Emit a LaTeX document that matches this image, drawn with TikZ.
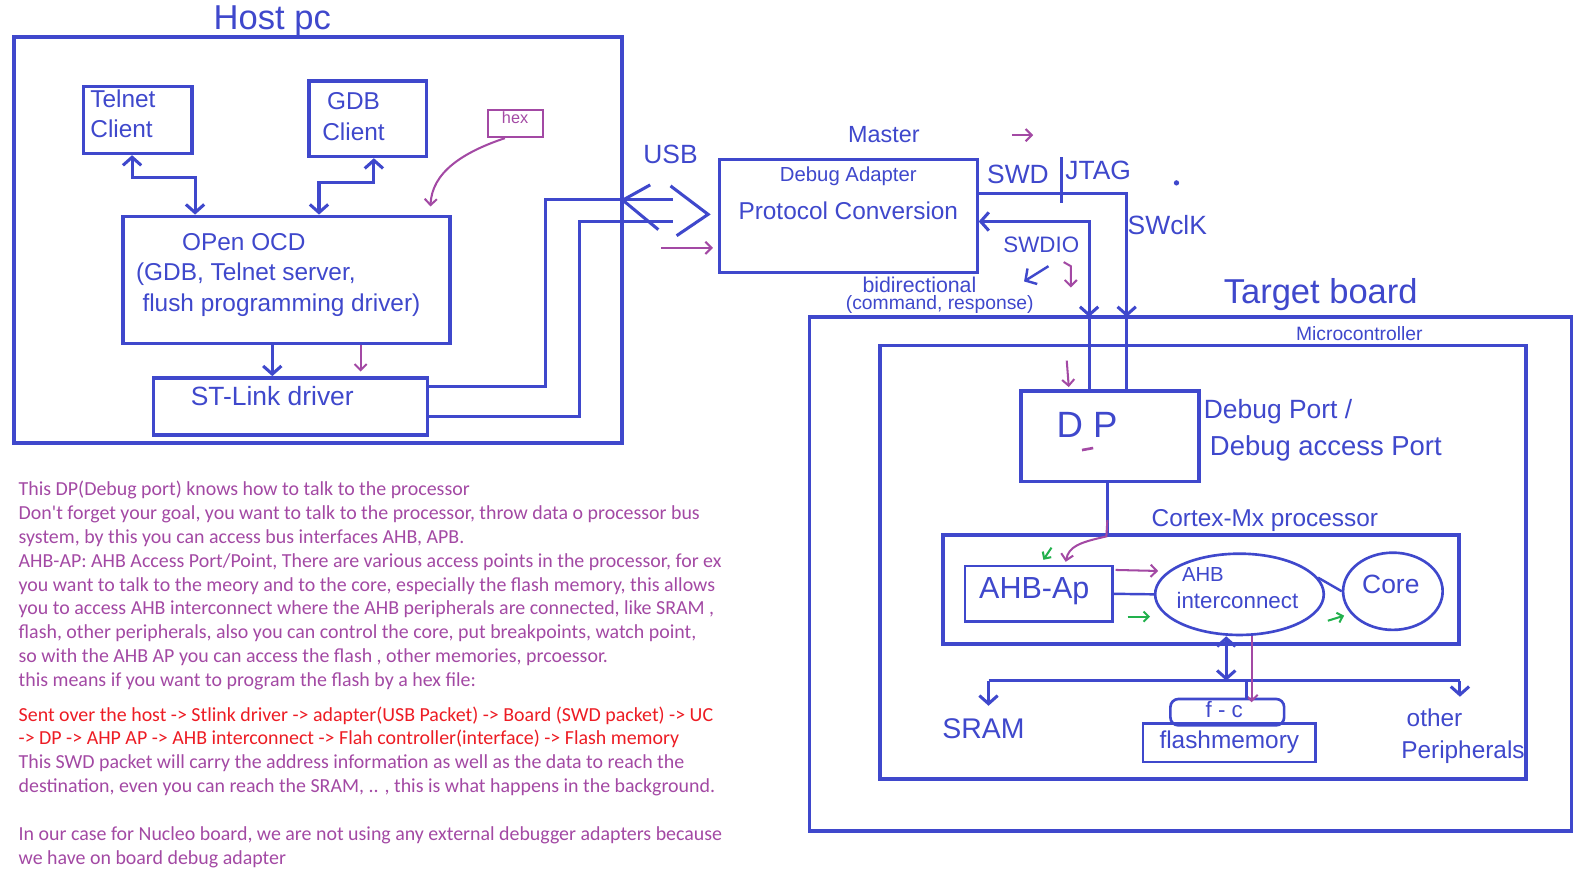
\documentclass[tikz,border=0pt]{standalone}
\usepackage{fontspec}
\setmainfont{Liberation Sans}
\newfontfamily\txtfont{Carlito}
\usetikzlibrary{arrows.meta,fit,shapes.geometric}
\definecolor{blu}{RGB}{63,72,204}
\definecolor{pur}{RGB}{163,73,164}
\definecolor{redt}{RGB}{237,28,36}
\definecolor{grn}{RGB}{34,177,76}
\begin{document}
\begin{tikzpicture}[x=0.5pt,y=-0.5pt,
  >={Straight Barb[length=4pt,width=9pt]},
  box/.style={draw=blu,line width=1.75pt,inner sep=0pt},
  hw/.style={text=blu,inner sep=0pt,font={\fontsize{#1}{#1}\selectfont}},
  con/.style={draw=blu,line width=1.5pt},
  pa/.style={draw=pur,line width=1pt,>={Straight Barb[length=3pt,width=6pt]}},
  ga/.style={draw=grn,line width=1pt,>={Straight Barb[length=2.5pt,width=5pt]}}]
\useasboundingbox (0,0) rectangle (1568,856);
\fill[white] (0,0) rectangle (1568,856);

% ---------------- Host PC ----------------
\node[box,line width=2pt,fit={(14,36) (612,436)}] (host) {};
\node[hw=17] (hostlbl) at (268,21) {Host pc};
\node[box,fit={(82,85) (189,151)}] (telnet) {};
\node[hw=12,align=left] (telnetlbl) at (121,112) {Telnet\\[3pt]Client};
\node[box,fit={(304,80) (420,154)}] (gdb) {};
\node[hw=12,align=center] (gdblbl) at (348,115) {GDB\\[3pt]Client};
\node[box,fit={(121,213) (443,338)}] (ocd) {};
\node[hw=12] (ocdl1) at (240,238) {OPen OCD};
\node[hw=12] (ocdl2) at (242,270) {(GDB, Telnet server,};
\node[hw=12] (ocdl3) at (277,300) {flush programming driver)};
\node[box,fit={(151,372) (421,428)}] (stlink) {};
\node[hw=13] (stlinklbl) at (268,390) {ST-Link driver};
\node[draw=pur,line width=1pt,inner sep=0pt,fit={(480,108) (534,135)},text=pur,font={\fontsize{8}{8}\selectfont}] (hex) {hex};

\draw[con,<->] ([xshift=-2.75pt]telnet.south) -- ++(0,-11pt) -| ([xshift=-45pt]ocd.north);
\draw[con,<->] ([xshift=3pt]gdb.south) -- ++(0,-12pt) -| ([xshift=16pt]ocd.north);
\draw[pa,->] ([xshift=-5pt]hex.south) .. controls (455,150) and (425,170) .. ([xshift=-10.5pt,yshift=4pt]ocd.north east);
\draw[con,->] ([xshift=-7pt]ocd.south) -- ([xshift=-7pt]ocd.south |- stlink.north);
\draw[pa,->] ([xshift=36.5pt]ocd.south) -- ++(0,-13pt);

% ---------------- USB link ----------------
\coordinate (usbA) at (662,196);
\coordinate (usbB) at (662,218);
\draw[con] ([yshift=10pt]stlink.east) -| (537,196) -- (usbA);
\draw[con] ([yshift=-5pt]stlink.east) -| (570,218) -- (usbB);
\draw[con] (640,182) -- (613,197) -- (648,226);
\draw[con] (660,183) -- (697,211) -- (666,232);
\node[hw=13] (usblbl) at (660,152) {USB};

% ---------------- Debug adapter ----------------
\node[box,line width=1.3pt,fit={(708,157) (962,268)}] (adapter) {};
\node[hw=11.5] (masterlbl) at (870,132) {Master};
\node[hw=10] (adl1) at (835,173) {Debug Adapter};
\node[hw=12] (adl2) at (835,207) {Protocol Conversion};
\draw[pa,->] ([xshift=-28pt,yshift=-15.75pt]adapter.west) -- ([xshift=-2.5pt,yshift=-15.75pt]adapter.west);
\draw[pa,->] (996,133) -- (1017,133);

\node[hw=13] (swdlbl) at (1002,172) {SWD};
\draw[con,line width=1.2pt] (1045,155) -- (1045,200);
\node[hw=13] (jtaglbl) at (1081,168) {JTAG};
\fill[blu] (1158,180) circle (1.3pt);
\node[hw=13] (swclklbl) at (1149,222) {SWclK};
\node[hw=11] (swdiolbl) at (1025,241) {SWDIO};
\node[hw=10.5] (bidirlbl) at (905,280) {bidirectional};
\node[hw=9.5] (cmdlbl) at (925,300) {(command, response)};
\draw[con,line width=1.2pt,->] (1032,262) -- (1008,277);
\draw[pa,->] (1047,258) -- (1054,262) -- (1054,283);

% ---------------- Target board ----------------
\node[box,fit={(797,312) (1547,818)}] (board) {};
\node[hw=17] (boardlbl) at (1300,290) {Target board};
\node[box,fit={(866,340) (1502,767)}] (micro) {};
\node[hw=9.5] (microlbl) at (1338,328) {Microcontroller};

\node[box,fit={(1005,385) (1180,474)}] (dp) {};
\node[hw=18] (dplbl) at (1070,418) {D P};
\draw[pur,line width=1.3pt] (1065,443) -- (1076,441);
\node[hw=13] (dpl1) at (1258,405) {Debug Port /};
\node[hw=13.5] (dpl2) at (1305,441) {Debug access Port};
\draw[pa,->] (1050,355) -- (1052,381);

\coordinate (clk) at (1109,312);
\coordinate (dio) at (1072,312);
\draw[con,->] ([yshift=11.25pt]adapter.east) -| (clk);
\draw[con] (clk) -- ([xshift=8.25pt]dp.north);
\draw[con,<->] ([yshift=-2.75pt]adapter.east) -| (dio);
\draw[con] (dio) -- ([xshift=-10.25pt]dp.north);

% ---------------- Processor ----------------
\node[box,line width=2pt,fit={(928,527) (1436,634)}] (proc) {};
\node[hw=12] (proclbl) at (1245,512) {Cortex-Mx processor};
\draw[con] ([xshift=-1.25pt]dp.south) -- ([xshift=-1.25pt]dp.south |- proc.north);
\draw[pa,->] (1090,512) -- (1089,528) .. controls (1062,534) and (1052,538) .. (1049,553);
\draw[ga,->] (1035,539) -- (1027,551);

\node[box,line width=1.3pt,fit={(950,557) (1095,612)}] (ap) {};
\node[hw=15] (aplbl) at (1018,582) {AHB-Ap};
\node[ellipse,draw=blu,line width=1.3pt,inner sep=0pt,minimum width=83pt,minimum height=40pt] (ic) at (1220,585) {};
\node[hw=10] (icl1) at (1184,565) {AHB};
\node[hw=11] (icl2) at (1218,591) {interconnect};
\node[ellipse,draw=blu,line width=1.3pt,inner sep=0pt,minimum width=49pt,minimum height=38pt] (core) at (1371,582) {};
\node[hw=13] (corelbl) at (1369,575) {Core};
\draw[con,line width=1.2pt] (ap.east) -- (ic.west);
\draw[con,line width=1.2pt] (ic.12) -- (core.west);
\draw[pa,->] (1098,561) -- (1140,562);
\draw[ga,->] (1110,607) -- (1132,607);
\draw[ga,->] (1307,611) -- (1323,606);

% ---------------- Bus ----------------
\coordinate (busL) at (973,670);
\coordinate (busR) at (1437,670);
\coordinate (busF) at (1227,670);
\draw[con] (busL) -- (busR);
\node[draw=blu,line width=1.3pt,inner sep=0pt,rounded corners=4pt,fit={(1152,688) (1264,714)}] (fc) {};
\node[hw=11] (fclbl) at (1205,698) {f - c};
\node[draw=blu,line width=1.3pt,inner sep=0pt,fit={(1125,712) (1295,750)}] (flash) {};
\node[hw=12] (flashlbl) at (1210,731) {flashmemory};
\node[hw=14] (sramlbl) at (968,717) {SRAM};
\node[hw=12] (othl1) at (1412,707) {other};
\node[hw=12] (othl2) at (1440,740) {Peripherals};
\draw[con,<->] ([xshift=-6.5pt]ic.south) -- ([xshift=-6.5pt]ic.south |- busL);
\draw[pa,->] ([xshift=6pt]ic.south) -- ++(0,-32.5pt);
\draw[con,->] (busL) -- ([yshift=6pt]busL |- sramlbl.north);
\draw[con,->] (busR) -- ([yshift=6pt]busR |- othl1.north);
\draw[con] (busF) -- (busF |- fc.north);

% ---------------- Notes ----------------
\node[anchor=north west,inner sep=0pt,align=left,text=pur,font={\txtfont\fontsize{9.8}{11.75}\selectfont}] (notes) at (18,473) {This DP(Debug port) knows how to talk to the processor\\
Don't forget your goal, you want to talk to the processor, throw data o processor bus\\
system, by this you can access bus interfaces AHB, APB.\\
AHB-AP: AHB Access Port/Point, There are various access points in the processor, for ex\\
you want to talk to the meory and to the core, especially the flash memory, this allows\\
you to access AHB interconnect where the AHB peripherals are connected, like SRAM ,\\
flash, other peripherals, also you can control the core, put breakpoints, watch point,\\
so with the AHB AP you can access the flash , other memories, prcoessor.\\
this means if you want to program the flash by a hex file:\\[5.25pt]
\textcolor{redt}{Sent over the host -> Stlink driver -> adapter(USB Packet) -> Board (SWD packet) -> UC}\\
\textcolor{redt}{-> DP -> AHP AP -> AHB interconnect -> Flah controller(interface) -> Flash memory}\\
This SWD packet will carry the address information as well as the data to reach the\\
destination, even you can reach the SRAM, .. , this is what happens in the background.\\[11.75pt]
In our case for Nucleo board, we are not using any external debugger adapters because\\
we have on board debug adapter};
\end{tikzpicture}
\end{document}
